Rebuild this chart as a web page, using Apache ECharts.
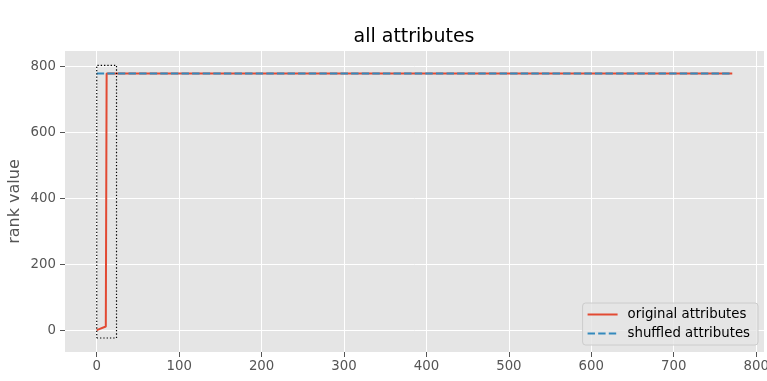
<!DOCTYPE html>
<html><head><meta charset="utf-8">
<script src="https://cdn.jsdelivr.net/npm/echarts@6/dist/echarts.min.js"></script>
<style>html,body{margin:0;padding:0;background:#fff}#c{width:767px;height:381px}</style>
</head><body><div id="c"></div>
<script>
const title = 'all attributes';
const yLabel = 'rank value';
const xTicks = [0, 100, 200, 300, 400, 500, 600, 700, 800];
const yTicks = [0, 200, 400, 600, 800];
const origX = [0, 11, 12, 771];
const origY = [0, 11, 778, 778];
const shufX = [0, 771];
const shufY = [778, 778];
const boxX = [0, 24, 24, 0, 0];
const boxY = [-24, -24, 803, 803, -24];
const seriesNames = ['original attributes', 'shuffled attributes'];

const zip = (a, b) => a.map((v, i) => [v, b[i]]);
const font = 'DejaVu Sans';
const chart = echarts.init(document.getElementById('c'), null, {renderer: 'canvas'});
chart.setOption({
  animation: false,
  backgroundColor: '#fff',
  title: {text: title, left: 414, textAlign: 'center', top: 28, padding: 0, textStyle: {fontFamily: font, fontSize: 19, fontWeight: 'normal', color: '#000'}},
  grid: {left: 65, right: 3, top: 51, bottom: 29, show: true, backgroundColor: '#E5E5E5', borderWidth: 0, containLabel: false, outerBoundsMode: 'none'},
  xAxis: {
    type: 'value', min: -38.5, max: 809.5,
    axisLine: {show: false, onZero: false},
    axisTick: {show: true, customValues: xTicks, length: 5, lineStyle: {color: '#555'}},
    axisLabel: {customValues: xTicks, fontFamily: font, fontSize: 13.3, color: '#555', margin: 8},
    splitLine: {show: true, lineStyle: {color: '#fff', width: 1}}
  },
  yAxis: {
    type: 'value', min: -66.5, max: 846.5,
    name: yLabel, nameLocation: 'middle', nameGap: 42, nameMoveOverlap: false,
    nameTextStyle: {fontFamily: font, fontSize: 16, color: '#555'},
    axisLine: {show: false, onZero: false},
    axisTick: {show: true, customValues: yTicks, length: 5, lineStyle: {color: '#555'}},
    axisLabel: {customValues: yTicks, fontFamily: font, fontSize: 13.3, color: '#555', margin: 9},
    splitLine: {show: true, lineStyle: {color: '#fff', width: 1}}
  },
  legend: {
    data: seriesNames, orient: 'vertical', right: 9, bottom: 36,
    backgroundColor: 'rgba(229,229,229,0.8)', borderColor: '#cccccc', borderWidth: 1, borderRadius: 3,
    padding: [5, 8, 5, 4], itemGap: 6, itemWidth: 30, itemHeight: 14,
    itemStyle: {opacity: 0},
    textStyle: {fontFamily: font, fontSize: 13.3, color: '#000', padding: [0, 0, 0, 5]}
  },
  series: [
    {name: seriesNames[0], type: 'line', data: zip(origX, origY), symbol: 'none', lineStyle: {color: '#E24A33', width: 2}, itemStyle: {color: '#E24A33'}, z: 3},
    {name: seriesNames[1], type: 'line', data: zip(shufX, shufY), symbol: 'none', lineStyle: {color: '#348ABD', width: 2, type: [7.4, 3.2]}, itemStyle: {color: '#348ABD'}, z: 4},
    {name: 'box', type: 'line', data: zip(boxX, boxY), symbol: 'none', lineStyle: {color: '#000', width: 1.2, type: [1.3, 2]}, z: 5}
  ]
});
</script></body></html>
